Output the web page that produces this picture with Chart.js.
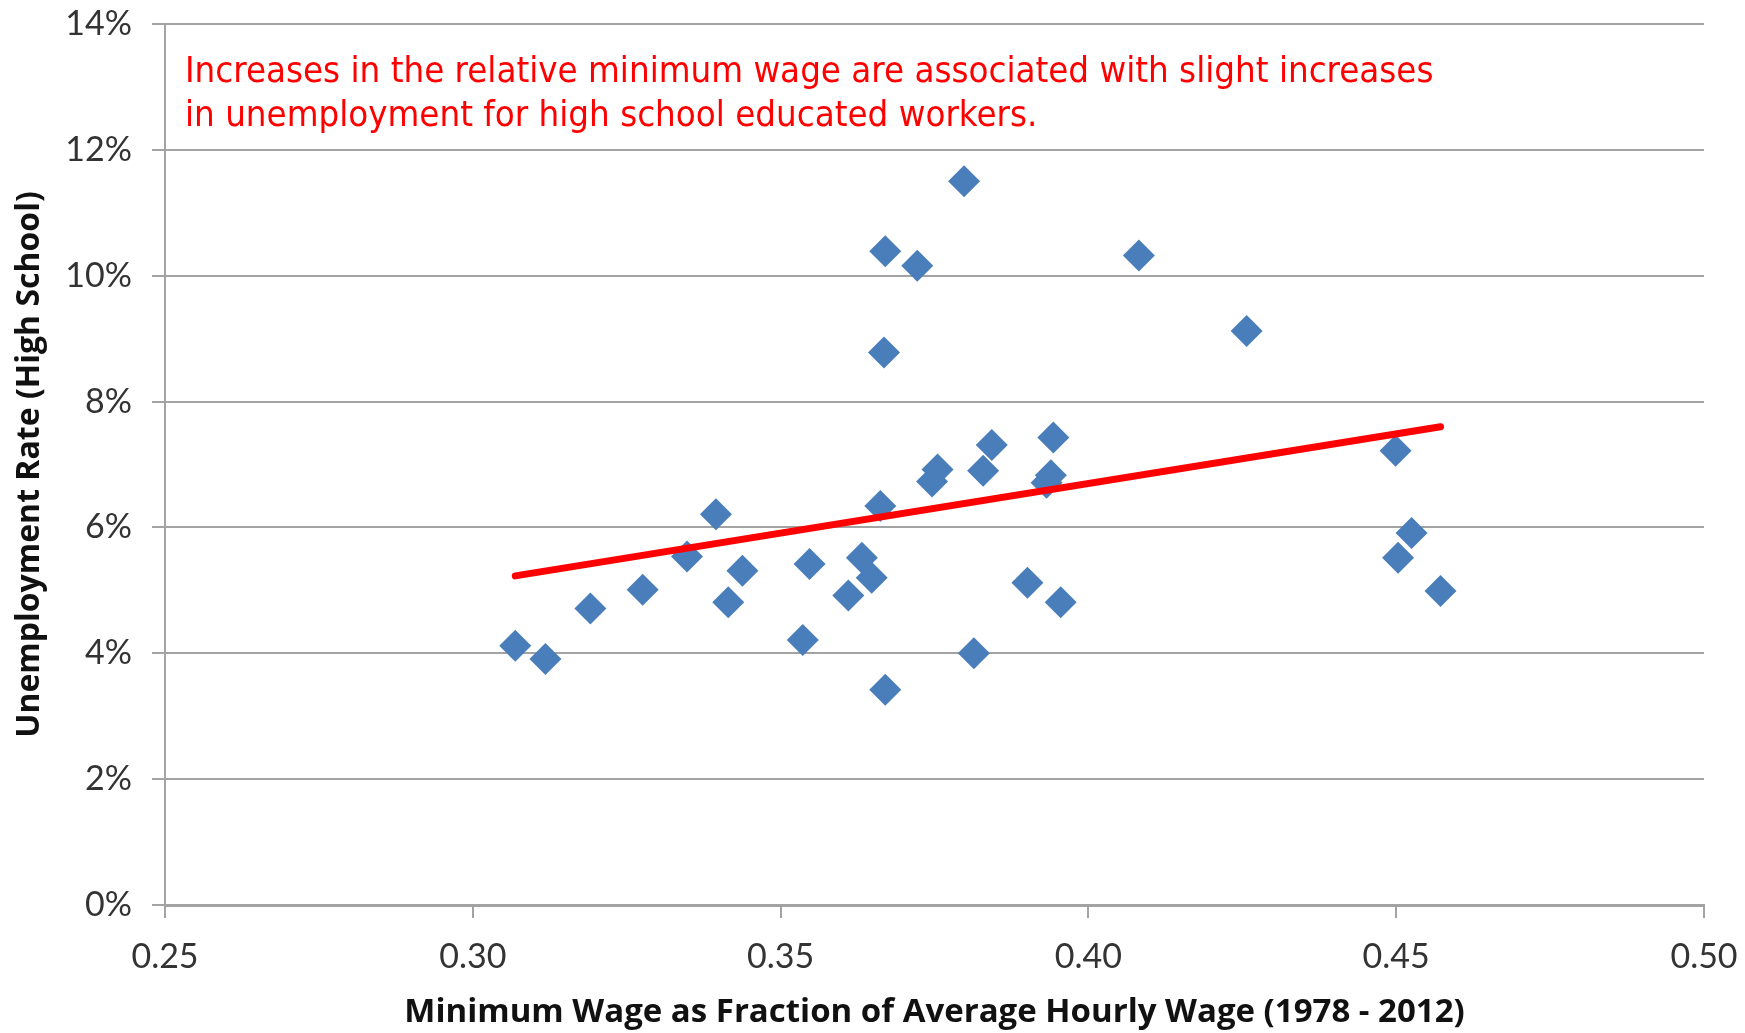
<!DOCTYPE html>
<html>
<head>
<meta charset="utf-8">
<title>Minimum wage vs unemployment</title>
<script src="https://cdn.jsdelivr.net/npm/chart.js@4.4.1/dist/chart.umd.min.js"></script>
<style>
  html, body { margin: 0; padding: 0; background: #ffffff; }
  #wrap { position: relative; width: 1745px; height: 1033px; }
</style>
</head>
<body>
<div id="wrap"><canvas id="wageChart"></canvas></div>
<script>
// Minimum wage / average hourly wage, one point per year 1978-2012
const wageRatio = [
  0.3069, 0.3118, 0.3191, 0.3276, 0.3348, 0.3395, 0.3415, 0.3438, 0.3536,
  0.3547, 0.3610, 0.3632, 0.3648, 0.3662, 0.3670, 0.3668, 0.3670, 0.3722,
  0.3746, 0.3755, 0.3798, 0.3814, 0.3829, 0.3843, 0.3901, 0.3932, 0.3939,
  0.3943, 0.3955, 0.4082, 0.4257, 0.4499, 0.4503, 0.4525, 0.4572
];
// Unemployment rate, high school educated workers (%)
const unemploymentRate = [
  4.12, 3.91, 4.71, 5.01, 5.54, 6.21, 4.81, 5.31, 4.21,
  5.42, 4.92, 5.52, 5.20, 6.34, 10.39, 8.78, 3.42, 10.16,
  6.73, 6.92, 11.50, 4.00, 6.90, 7.31, 5.12, 6.71, 6.83,
  7.43, 4.81, 10.32, 9.12, 7.22, 5.52, 5.91, 4.99
];
// Linear trend end points
const trendWage = [0.3069, 0.4572];
const trendRate = [5.23, 7.60];

const xTicks = [0.25, 0.30, 0.35, 0.40, 0.45, 0.50];
const yTicks = [0, 2, 4, 6, 8, 10, 12, 14];

const noteLines = [
  'Increases in the relative minimum wage are associated with slight increases',
  'in unemployment for high school educated workers.'
];

const labelFont = "Lato, 'Open Sans', sans-serif";
const titleFont = "'Open Sans', Lato, sans-serif";
const noteFont = "'DejaVu Sans Condensed', 'DejaVu Sans', sans-serif";
const gridColor = '#a3a3a3';

const notePlugin = {
  id: 'note',
  afterDraw(chart) {
    const { ctx, chartArea } = chart;
    ctx.save();
    ctx.fillStyle = '#ff0000';
    ctx.font = '36.3px ' + noteFont;
    ctx.textBaseline = 'alphabetic';
    noteLines.forEach((line, i) => {
      ctx.fillText(line, chartArea.left + 20, chartArea.top + 58 + i * 44);
    });
    ctx.restore();
  }
};

const ctx = document.getElementById('wageChart').getContext('2d');
new Chart(ctx, {
  type: 'scatter',
  data: {
    datasets: [
      {
        label: 'Trend',
        data: trendWage.map((x, i) => ({ x: x, y: trendRate[i] })),
        showLine: true,
        borderColor: '#ff0000',
        borderWidth: 7,
        borderCapStyle: 'round',
        pointRadius: 0,
        order: 1
      },
      {
        label: 'Years',
        data: wageRatio.map((x, i) => ({ x: x, y: unemploymentRate[i] })),
        pointStyle: 'rectRot',
        pointRadius: 16,
        pointBackgroundColor: '#4a7ebb',
        pointBorderColor: '#4a7ebb',
        pointBorderWidth: 0,
        order: 2
      }
    ]
  },
  options: {
    responsive: true,
    maintainAspectRatio: false,
    devicePixelRatio: 1,
    animation: false,
    layout: { padding: { top: 24, right: 41, left: 0, bottom: 0 } },
    plugins: {
      legend: { display: false },
      tooltip: { enabled: false }
    },
    scales: {
      x: {
        type: 'linear',
        min: 0.25,
        max: 0.50,
        afterBuildTicks: (scale) => { scale.ticks = xTicks.map(v => ({ value: v })); },
        afterFit: (scale) => {
          scale.height = 128;
          scale.paddingLeft = 0;
          scale.paddingRight = 0;
        },
        ticks: {
          color: '#333333',
          font: { family: labelFont, size: 34 },
          padding: 19,
          maxRotation: 0,
          callback: (v) => Number(v).toFixed(2)
        },
        grid: {
          drawOnChartArea: false,
          color: gridColor,
          lineWidth: 2,
          tickLength: 13
        },
        border: { color: gridColor, width: 3 },
        title: {
          display: true,
          text: 'Minimum Wage as Fraction of Average Hourly Wage (1978 - 2012)',
          color: '#111111',
          font: { family: titleFont, size: 33, weight: 'bold' },
          padding: { top: 0, bottom: 1 }
        }
      },
      y: {
        type: 'linear',
        min: 0,
        max: 14,
        afterBuildTicks: (scale) => { scale.ticks = yTicks.map(v => ({ value: v })); },
        afterFit: (scale) => {
          scale.width = 165;
          scale.paddingTop = 0;
          scale.paddingBottom = 0;
        },
        ticks: {
          color: '#333333',
          font: { family: labelFont, size: 34 },
          padding: 20,
          callback: (v) => v + '%'
        },
        grid: {
          color: gridColor,
          lineWidth: 2,
          tickLength: 13
        },
        border: { color: gridColor, width: 2 },
        title: {
          display: true,
          text: 'Unemployment Rate (High School)',
          color: '#111111',
          font: { family: titleFont, size: 32, weight: 'bold' },
          padding: { top: 11, bottom: 0 }
        }
      }
    }
  },
  plugins: [notePlugin]
});
</script>
</body>
</html>
